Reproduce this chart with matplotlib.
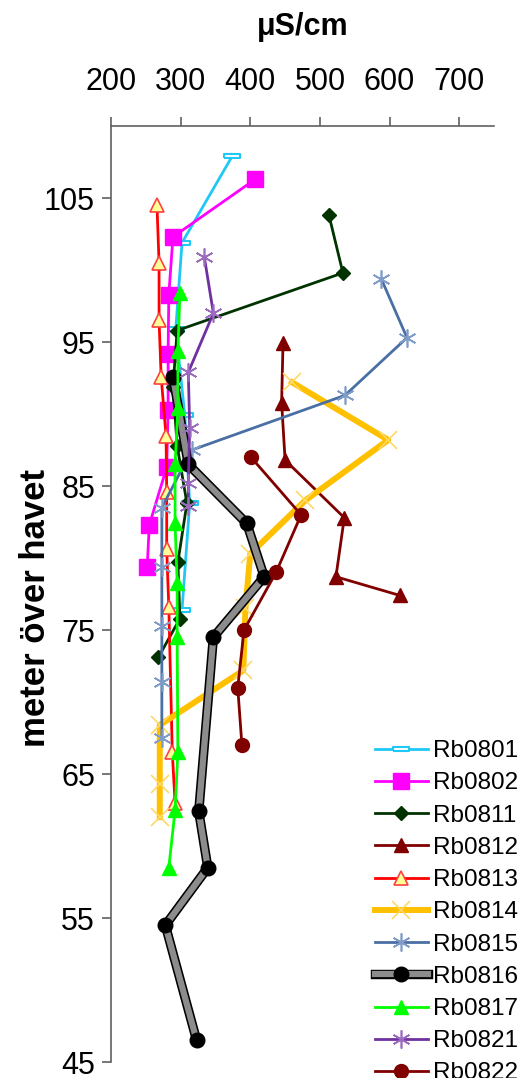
import matplotlib
matplotlib.use("Agg")
import matplotlib.pyplot as plt
import matplotlib.patheffects as pe
from matplotlib.legend_handler import HandlerTuple

plt.rcParams['font.family'] = ['Liberation Sans', 'DejaVu Sans']

# conductivity (uS/cm) and height (m above sea level) per well
rb0801_x = [374, 302, 293, 306, 313, 302]
rb0801_y = [107.9, 101.9, 95.9, 89.9, 83.8, 76.4]

rb0802_x = [407, 289, 283, 282, 282, 280, 255, 252]
rb0802_y = [106.3, 102.3, 98.3, 94.2, 90.3, 86.3, 82.3, 79.4]

rb0811_x = [513, 533, 295, 289, 295, 309, 296, 299, 268]
rb0811_y = [103.8, 99.8, 95.8, 91.9, 87.8, 83.8, 79.7, 75.8, 73.1]

rb0812_x = [447, 445, 450, 535, 523, 615]
rb0812_y = [94.9, 90.8, 86.8, 82.8, 78.7, 77.4]

rb0813_x = [266, 269, 269, 272, 279, 280, 280, 283, 288, 292]
rb0813_y = [104.5, 100.5, 96.5, 92.6, 88.5, 84.6, 80.6, 76.6, 66.5, 63.0]

rb0814_x = [460, 598, 479, 400, 393, 390, 270, 270, 270]
rb0814_y = [92.2, 88.2, 84.0, 80.3, 76.5, 72.2, 68.4, 64.3, 62.0]

rb0815_x = [588, 625, 536, 316, 273, 273, 273, 273, 273]
rb0815_y = [99.4, 95.3, 91.3, 87.5, 83.5, 79.4, 75.3, 71.4, 67.5]

rb0816_x = [289, 311, 395, 420, 347, 326, 339, 278, 323]
rb0816_y = [92.6, 86.5, 82.4, 78.7, 74.5, 62.4, 58.5, 54.5, 46.5]

rb0817_x = [299, 296, 296, 292, 292, 295, 295, 296, 292, 283]
rb0817_y = [98.4, 94.4, 90.4, 86.5, 82.4, 78.3, 74.5, 66.5, 62.5, 58.5]

rb0821_x = [334, 347, 311, 313, 311, 311]
rb0821_y = [100.9, 97.0, 92.9, 89.0, 85.2, 83.6]

rb0822_x = [401, 473, 437, 391, 382, 388]
rb0822_y = [87.0, 83.0, 79.0, 75.0, 71.0, 67.0]

x_ticks = [200, 300, 400, 500, 600, 700]
y_ticks = [45, 55, 65, 75, 85, 95, 105]

dash = [(-1, -0.3), (1, -0.3), (1, 0.3), (-1, 0.3), (-1, -0.3)]
star = (6, 2, 0)

fig = plt.figure(figsize=(5.18, 10.78), dpi=100)
ax = fig.add_axes([0.2143, 0.0148, 0.7394, 0.8683])

handles = []
h, = ax.plot(rb0801_x, rb0801_y, color='#1FC8F5', lw=2, marker=dash, ms=11,
             mfc='white', mec='#1FC8F5', mew=1.5)
handles.append(h)
h, = ax.plot(rb0802_x, rb0802_y, color='#FF00FF', lw=2, marker='s', ms=11)
handles.append(h)
h, = ax.plot(rb0811_x, rb0811_y, color='#003300', lw=2, marker='D', ms=7)
handles.append(h)
h, = ax.plot(rb0812_x, rb0812_y, color='#800000', lw=2, marker='^', ms=10)
handles.append(h)
h, = ax.plot(rb0813_x, rb0813_y, color='#FF0000', lw=2, marker='^', ms=10,
             mfc='#FFFF99', mec='#FF4040', mew=1.2)
handles.append(h)
h, = ax.plot(rb0814_x, rb0814_y, color='#FFC000', lw=4.3, marker='x', ms=13,
             mec='#FFD966', mew=1.2)
handles.append(h)
h, = ax.plot(rb0815_x, rb0815_y, color='#4A6FA5', lw=2, marker=star, ms=13,
             mec='#7F9BC8', mew=1.2)
handles.append(h)
# thick grey band with black edges, then the black dots on top
line16, = ax.plot(rb0816_x, rb0816_y, color='#8C8C8C', lw=4.5,
                  path_effects=[pe.Stroke(linewidth=6.8, foreground='black'), pe.Normal()])
dots16, = ax.plot(rb0816_x, rb0816_y, ls='none', marker='o', ms=10.5,
                  mfc='black', mec='black')
handles.append((line16, dots16))
h, = ax.plot(rb0817_x, rb0817_y, color='#00FF00', lw=2, marker='^', ms=10)
handles.append(h)
h, = ax.plot(rb0821_x, rb0821_y, color='#7030A0', lw=2, marker=star, ms=13,
             mec='#9B6BC0', mew=1.2)
handles.append(h)
h, = ax.plot(rb0822_x, rb0822_y, color='#800000', lw=2, marker='o', ms=10)
handles.append(h)

labels = ['Rb0801', 'Rb0802', 'Rb0811', 'Rb0812', 'Rb0813', 'Rb0814',
          'Rb0815', 'Rb0816', 'Rb0817', 'Rb0821', 'Rb0822']

ax.set_xlim(200, 750)
ax.set_ylim(45, 110)
ax.set_xticks(x_ticks)
ax.set_yticks(y_ticks)
ax.xaxis.tick_top()
ax.xaxis.set_label_position('top')
for s in ['right', 'bottom']:
    ax.spines[s].set_visible(False)
for s in ['top', 'left']:
    ax.spines[s].set_color('#606060')
    ax.spines[s].set_linewidth(1.2)
ax.tick_params(axis='x', length=6.5, width=1.2, color='#606060', pad=14.5, labelsize=22)
ax.tick_params(axis='y', length=6.5, width=1.2, color='#606060', pad=5, labelsize=22)

ax.set_xlabel('μS/cm', fontsize=22, fontweight='bold', labelpad=23)
ax.set_ylabel('meter över havet', fontsize=25, fontweight='bold', labelpad=-6)
ax.yaxis.label.set_y(0.485)

leg = ax.legend(handles, labels, handler_map={tuple: HandlerTuple(ndivide=1, pad=0)},
                loc='lower right', bbox_to_anchor=(1.0, -0.006),
                bbox_transform=fig.transFigure, frameon=False, fontsize=17.5,
                handlelength=2.2, handletextpad=0.2, labelspacing=0.42,
                borderpad=0, borderaxespad=0)

fig.savefig('out.png', dpi=100)
